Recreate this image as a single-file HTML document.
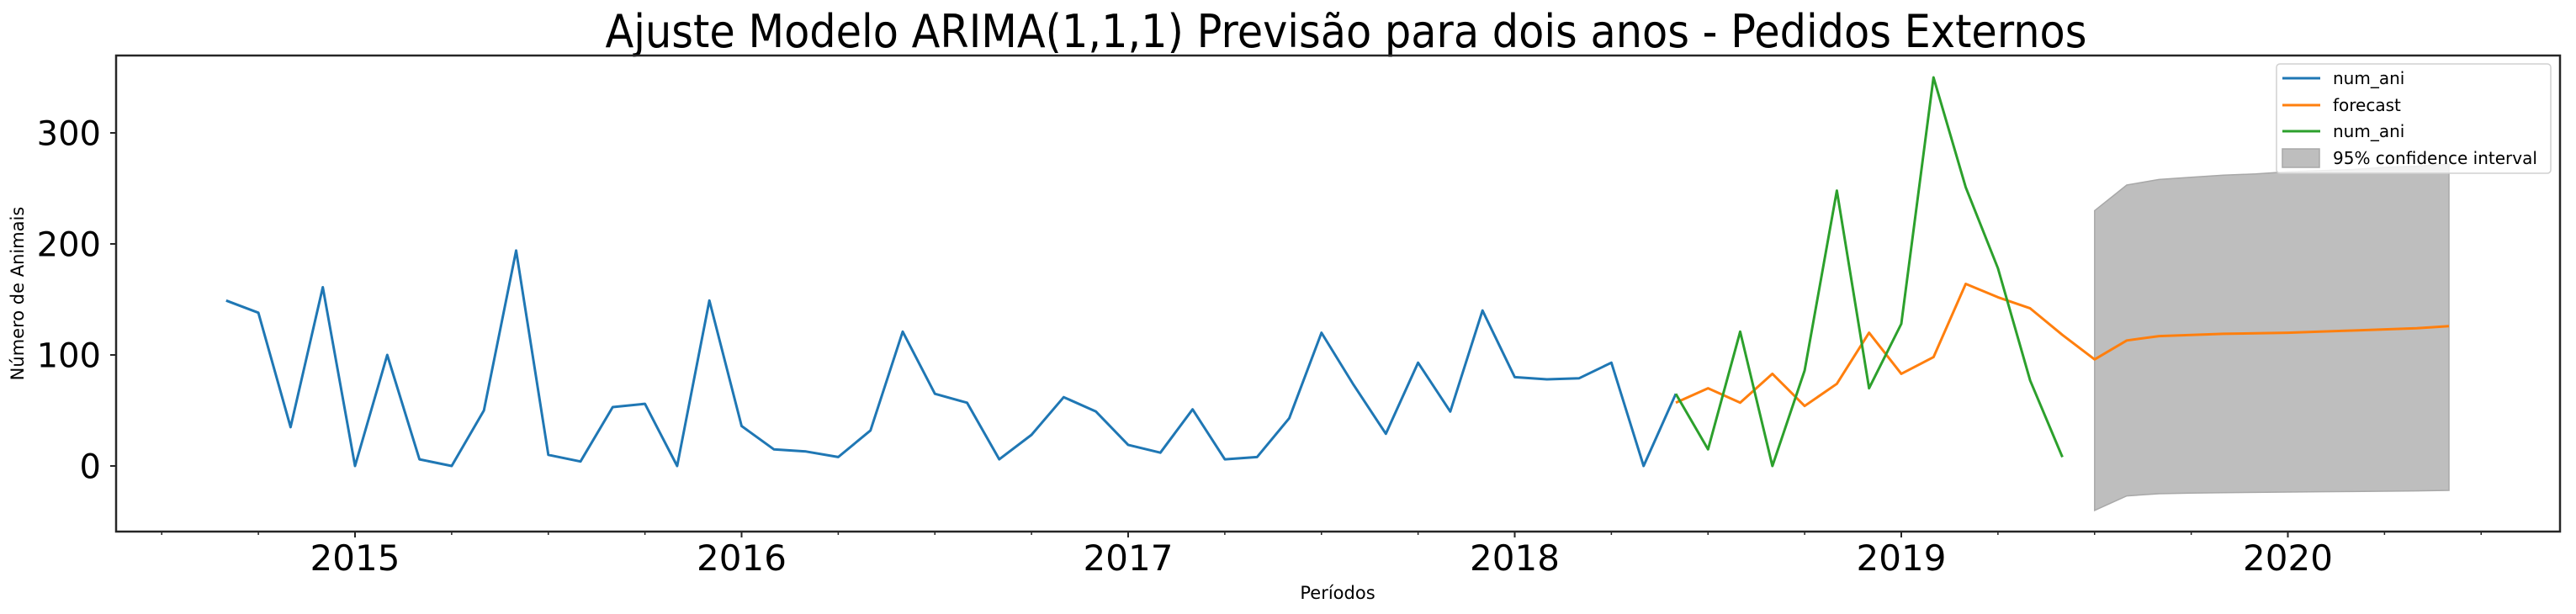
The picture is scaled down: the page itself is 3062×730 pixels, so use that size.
<!DOCTYPE html>
<html><head><meta charset="utf-8"><style>
html,body{margin:0;padding:0;background:#fff;}
svg{display:block;font-family:"DejaVu Sans","Liberation Sans",sans-serif;}
</style></head><body>
<svg id="chart" width="3062" height="730" viewBox="0 0 3062 730" xmlns="http://www.w3.org/2000/svg">
<rect width="3062" height="730" fill="#fff"/>
<text x="1600" y="56" font-size="54" text-anchor="middle" textLength="1761" lengthAdjust="spacingAndGlyphs">Ajuste Modelo ARIMA(1,1,1) Previsão para dois anos - Pedidos Externos</text>
<g id="plot"></g>
<text x="1590" y="712" font-size="21" text-anchor="middle">Períodos</text>
<text transform="translate(28,349) rotate(-90)" font-size="21" text-anchor="middle">Número de Animais</text>
</svg>
<script>
const blueStart = [2014, 9];
const blueValues = [149,138,35,161, 0,100,6,0,50,194,10,4,53,56,0,149, 36,15,13,8,32,121,65,57,6,28,62,49, 19,12,51,6,8,43,120,73,29,93,49,140, 80,78,79,93,0,65];
const forecastStart = [2018, 6];
const forecastValues = [57,70,57,83,54,74,120,83,98,164,152,142,118,96,113,117,118,119,119.5,120,121,122,123,124,126];
const greenStart = [2018, 6];
const greenValues = [65,15,121,0,86,248,70,128,350,251,178,77,8];
const ciStart = [2019, 7];
const ciUpper = [230,253,258,260,262,263,265,266,267,269,270,272];
const ciLower = [-40,-27,-25,-24.5,-24,-23.8,-23.5,-23.2,-23,-22.7,-22.4,-22];
const yTicks = [0,100,200,300];
const yearTicks = [2015,2016,2017,2018,2019,2020];
const legendLabels = ["num_ani","forecast","num_ani","95% confidence interval"];

const L=138,R=3043,T=66,B=632;
const NS="http://www.w3.org/2000/svg";
const g=document.getElementById('plot');
function xm(m){return 422 + m*459.5/12;}           // months since Jan 2015
function xd(y,mo){return xm((y-2015)*12 + (mo-1));}
function yv(v){return 554 - v*1.32;}
function mk(tag,attrs,parent){const e=document.createElementNS(NS,tag);for(const k in attrs)e.setAttribute(k,attrs[k]);(parent||g).appendChild(e);return e;}
function pts(start,vals){return vals.map((v,i)=>xd(start[0],start[1]+i).toFixed(1)+','+yv(v).toFixed(1)).join(' ');}

// CI band
let up=ciUpper.map((v,i)=>[xd(ciStart[0],ciStart[1]+i),yv(v)]);
let lo=ciLower.map((v,i)=>[xd(ciStart[0],ciStart[1]+i),yv(v)]).reverse();
const band=mk('polygon',{points:up.concat(lo).map(p=>p[0].toFixed(1)+','+p[1].toFixed(1)).join(' '),fill:'#bebebe',stroke:'#a8a8a8','stroke-width':1.5});



const blue=mk('polyline',{points:pts(blueStart,blueValues),fill:'none',stroke:'#1f77b4','stroke-width':3,'stroke-linejoin':'round'});


const orange=mk('polyline',{points:pts(forecastStart,forecastValues),fill:'none',stroke:'#ff7f0e','stroke-width':3,'stroke-linejoin':'round'});


const green=mk('polyline',{points:pts(greenStart,greenValues),fill:'none',stroke:'#2ca02c','stroke-width':3,'stroke-linejoin':'round'});



// frame
const frame=mk('rect',{x:L,y:T,width:R-L,height:B-T,fill:'none',stroke:'#262626','stroke-width':2.5});



// y ticks
yTicks.forEach(v=>{
  const t=mk('line',{x1:L-7,x2:L,y1:yv(v),y2:yv(v),stroke:'#262626','stroke-width':2});
  
  
  const tx=mk('text',{x:120,y:yv(v)+14.5,'font-size':40,'text-anchor':'end'});
  tx.textContent=v;
  
  
});
// x ticks (quarterly minor, yearly major)
for(let m=-9;m<=69;m+=3){
  const x=xm(m); if(x<L||x>R) continue;
  const major=(m%12===0);
  const t=mk('line',{x1:x,x2:x,y1:B,y2:B+(major?7:4),stroke:'#262626','stroke-width':major?2:1.5});
  
  
}
yearTicks.forEach(yr=>{
  const tx=mk('text',{x:xd(yr,1),y:678,'font-size':42,'text-anchor':'middle'});
  tx.textContent=yr;
  
  
});

// legend
const lg=mk('g',{});


const lbox=mk('rect',{x:2706,y:76,width:326,height:130,rx:4,fill:'#fff','fill-opacity':0.8,stroke:'#d0d0d0','stroke-width':1.5},lg);


const cols=['#1f77b4','#ff7f0e','#2ca02c',null];
const rows=[93,125,156,188];
legendLabels.forEach((lab,i)=>{
  if(cols[i]){
    const h=mk('line',{x1:2713,x2:2758,y1:rows[i],y2:rows[i],stroke:cols[i],'stroke-width':3},lg);
    
    
  } else {
    const h=mk('rect',{x:2713,y:rows[i]-11,width:44,height:22,fill:'#bebebe',stroke:'#a8a8a8','stroke-width':1.5},lg);
    
    
  }
  const tx=mk('text',{x:2773,y:rows[i]+7,'font-size':20},lg);
  tx.textContent=lab;
  
  
});
</script>
</body></html>
